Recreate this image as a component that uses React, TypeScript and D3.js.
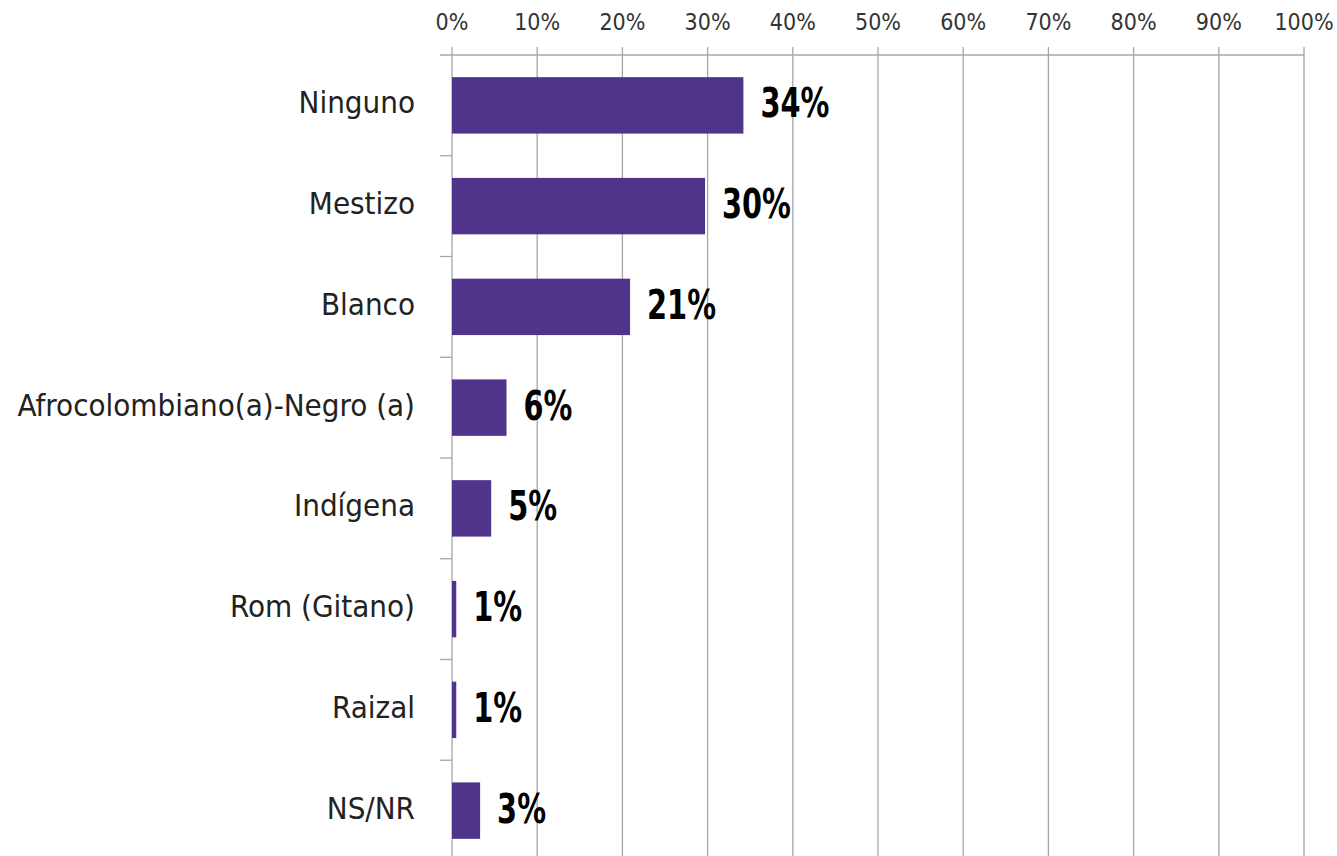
import React from "react";
import * as d3 from "d3";

const categories = [
  "Ninguno",
  "Mestizo",
  "Blanco",
  "Afrocolombiano(a)-Negro (a)",
  "Indígena",
  "Rom  (Gitano)",
  "Raizal",
  "NS/NR",
];
const values = [34.2, 29.7, 20.9, 6.4, 4.6, 0.5, 0.5, 3.3];
const valueLabels = ["34%", "30%", "21%", "6%", "5%", "1%", "1%", "3%"];
const xTicks = [0, 10, 20, 30, 40, 50, 60, 70, 80, 90, 100];

const W = 1337;
const H = 856;
const left = 452;
const right = 1304;
const top = 55;
const bottom = 861;

export default function App() {
  const x = d3.scaleLinear().domain([0, 100]).range([left, right]);
  const y = d3
    .scaleBand<string>()
    .domain(categories)
    .range([top, bottom])
    .paddingInner(0.44)
    .paddingOuter(0.22);
  const step = y.step();
  const font = "'Liberation Sans Narrow', 'DejaVu Sans Condensed', sans-serif";

  return (
    <svg
      width={W}
      height={H}
      style={{ position: "absolute", left: 0, top: 0, background: "#fff" }}
    >
      {xTicks.map((t) => (
        <g key={t}>
          <line
            x1={x(t)}
            x2={x(t)}
            y1={top - 8}
            y2={H}
            stroke="#a6a6a6"
            strokeWidth={1.3}
          />
          <text
            x={x(t)}
            y={30}
            textAnchor="middle"
            fontFamily={font}
            fontSize={23}
            fill="#333"
          >
            {t}%
          </text>
        </g>
      ))}
      <line x1={left - 12} x2={right} y1={top} y2={top} stroke="#a6a6a6" strokeWidth={1.3} />
      {categories.map((c, i) => {
        const b = top + i * step;
        return (
          <line
            key={"t" + c}
            x1={left - 12}
            x2={left}
            y1={b + step}
            y2={b + step}
            stroke="#a6a6a6"
            strokeWidth={1.3}
          />
        );
      })}
      {categories.map((c, i) => {
        const yy = y(c)!;
        const bw = y.bandwidth();
        const cy = yy + bw / 2;
        return (
          <g key={c}>
            <rect
              x={x(0)}
              y={yy}
              width={x(values[i]) - x(0)}
              height={bw}
              fill="#50338a"
            />
            <text
              x={left - 37}
              y={cy + 8}
              textAnchor="end"
              fontFamily={font}
              fontSize={31}
              fill="#222"
            >
              {c}
            </text>
            <text
              transform={`translate(${x(values[i]) + 17},${cy + 12}) scale(0.8,1)`}
              fontFamily={font}
              fontSize={40}
              fontWeight="bold"
              fill="#000"
            >
              {valueLabels[i]}
            </text>
          </g>
        );
      })}
    </svg>
  );
}
